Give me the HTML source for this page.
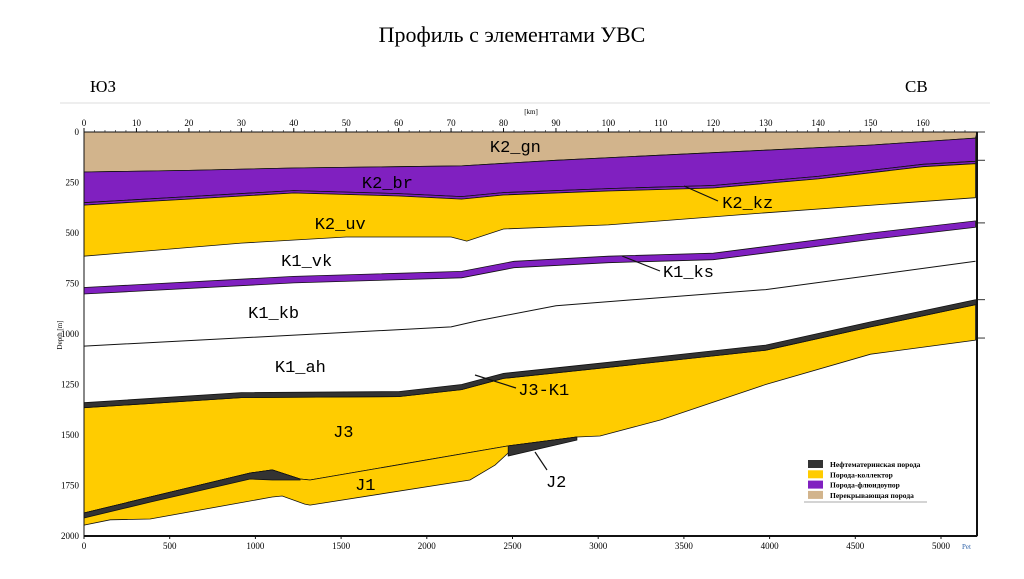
<!DOCTYPE html>
<html><head><meta charset="utf-8"><style>
body{margin:0;background:#fff;width:1024px;height:574px;overflow:hidden;font-family:"Liberation Serif",serif}
</style></head><body>
<svg id="c" width="1024" height="574" xmlns="http://www.w3.org/2000/svg">
<text x="512" y="42" text-anchor="middle" font-size="22" font-family="Liberation Serif, serif">Профиль с элементами УВС</text>
<text x="90" y="92" font-size="17">ЮЗ</text>
<text x="905" y="92" font-size="17">СВ</text>
<line x1="60" y1="103" x2="990" y2="103" stroke="#eee" stroke-width="2"/>
<g id="layers"></g>
<g id="axes"></g>
</svg>
<script>
// boundary lines: km positions and depths (m)
const gnKm=[0,20,40,60,72,90,110,130,150,170];
const gnBase=[198,190,178,172,168,140,115,90,65,30];
const brKm=[0,20,40,60,72,80,100,120,140,160,170];
const brBase=[350,320,290,305,320,300,280,265,220,160,145];
const uvKm=[0,30,50,70,73,80,100,130,170];
const uvBase=[615,550,520,520,540,480,460,400,325];
const vkKm=[0,40,72,82,100,120,150,170];
const vkTop=[770,715,690,640,615,600,500,440];
const kbKm=[0,70,75,90,130,170];
const kbBase=[1060,965,935,860,780,640];
const ahKm=[0,30,60,72,80,100,130,150,170];
const ahBase=[1340,1290,1285,1250,1195,1140,1055,940,830];
const j3Km=[0,12.6,31.7,35.9,41.2,43.1,80.9,94,98.4,110,130,150,170];
const j3Base=[1886,1807,1688,1673,1718,1723,1554,1510,1505,1425,1250,1100,1030];
const j1Km=[0,5,12.6,35.9,37.8,42.1,43.1,73.6,78.4,80.9,87.9,94];
const j1Base=[1946,1920,1916,1807,1802,1842,1847,1723,1649,1589,1545,1510];
const topTicks=[0,10,20,30,40,50,60,70,80,90,100,110,120,130,140,150,160];
const depthTicks=[0,250,500,750,1000,1250,1500,1750,2000];
const botTicks=[0,500,1000,1500,2000,2500,3000,3500,4000,4500,5000];
const legendLabels=["Нефтематеринская порода","Порода-коллектор","Порода-флюидоупор","Перекрывающая порода"];
const legendColors=["#333333","#ffcc00","#8020c0","#d2b48c"];
const layerNames=["K2_gn","K2_br","K2_uv","K1_vk","K1_kb","K1_ah","J3","J1","J2","J3-K1","K2_kz","K1_ks"];
const layerLabelKm=[77.4,53,44,37.6,31.3,36.4,47.5,51.7,88.1,82.8,121.7,110.4];
const layerLabelDepth=[99,277,480,663,920,1188,1510,1772,1757,1302,376,718];

const X0=84,KM=5.244,Y0=132,DM=0.202,X1=977;
const sx=k=>Math.min(X1,X0+k*KM), sy=d=>Y0+d*DM;
const NS="http://www.w3.org/2000/svg";
const L=document.getElementById('layers'),A=document.getElementById('axes');
function mk(tag,at,par){const e=document.createElementNS(NS,tag);for(const k in at)e.setAttribute(k,at[k]);par.appendChild(e);return e;}
function line(km,d,off){return km.map((k,i)=>[sx(k),sy(d[i]+(off||0))]);}
function ptsStr(p){return p.map(q=>q[0].toFixed(1)+','+q[1].toFixed(1)).join(' ');}
function band(top,bot,fill,name){
 const p=mk('polygon',{points:ptsStr(top.concat(bot.slice().reverse())),fill:fill,stroke:'#111','stroke-width':0.8},L);
 
 
}
const topLine=[[X0,Y0],[X1,Y0]];
band(topLine,line(gnKm,gnBase),'#d2b48c','k2-gn-layer');
band(line(gnKm,gnBase),line(brKm,brBase),'#8020c0','k2-br-layer');
band(line(brKm,brBase),line(brKm,brBase,12),'#8020c0','k2-kz-layer');
band(line(brKm,brBase,12),line(uvKm,uvBase),'#ffcc00','k2-uv-layer');
band(line(vkKm,vkTop),line(vkKm,vkTop,32),'#8020c0','k1-vk-layer');
const kb=mk('polyline',{points:ptsStr(line(kbKm,kbBase)),fill:'none',stroke:'#111','stroke-width':1},L);


band(line(ahKm,ahBase,25),line(j3Km,j3Base),'#ffcc00','j3-layer');
band(line(ahKm,ahBase),line(ahKm,ahBase,25),'#333333','j3-k1-layer');
// J1: top is J3 base up to km 94
const j3Left=line(j3Km,j3Base).filter((p,i)=>j3Km[i]<=94);
band(j3Left,line(j1Km,j1Base),'#ffcc00','j1-layer');
// source rock along J3 base (left)
const srKm=[0,12.6,31.7,35.9,41.2],srT=[1886,1807,1688,1673,1718],srB=[1911,1832,1718,1723,1723];
band(line(srKm,srT),line(srKm,srB),'#333333','source-rock-left');
// J2 wedge
const j2Km=[80.9,94],j2T=[1554,1510],j2B=[1604,1525];
band(line(j2Km,j2T),line(j2Km,j2B),'#333333','j2-layer');
// right tick marks
[0,140,450,830,1020].forEach(d=>{const t=mk('line',{x1:X1,y1:sy(d),x2:X1+8,y2:sy(d),stroke:'#333','stroke-width':1},A);

});
// labels
layerNames.forEach((s,i)=>{const t=mk('text',{x:sx(layerLabelKm[i]),y:sy(layerLabelDepth[i]),'font-size':17,'font-family':'Liberation Mono, monospace'},L);t.textContent=s;

});
const leaders=[[718,201,684,186],[660,271,622,256],[516,388,475,375],[547,470,535,452]];
leaders.forEach(a=>{const t=mk('line',{x1:a[0],y1:a[1],x2:a[2],y2:a[3],stroke:'#111','stroke-width':1.2},L);

});
// frame
mk('rect',{x:X0,y:Y0,width:X1-X0,height:sy(2000)-Y0,fill:'none',stroke:'#111','stroke-width':1},A);
mk('line',{x1:X0,y1:sy(2000),x2:X1,y2:sy(2000),stroke:'#111','stroke-width':2},A);
mk('line',{x1:X1,y1:Y0,x2:X1,y2:sy(2000),stroke:'#111','stroke-width':2},A);
topTicks.forEach(k=>{const t=mk('text',{x:sx(k),y:126,'font-size':9,'text-anchor':'middle'},A);t.textContent=k;


mk('line',{x1:sx(k),y1:Y0,x2:sx(k),y2:Y0-4,stroke:'#111'},A);});
for(let k=0;k<170;k+=2)mk('line',{x1:sx(k),y1:Y0,x2:sx(k),y2:Y0-2,stroke:'#111','stroke-width':0.6},A);
depthTicks.forEach(d=>{const t=mk('text',{x:79,y:sy(d)+3,'font-size':9,'text-anchor':'end'},A);t.textContent=d;

});
botTicks.forEach(v=>{const x=X0+v*(941-84)/5000;const t=mk('text',{x:x,y:549,'font-size':9,'text-anchor':'middle'},A);t.textContent=v;


mk('line',{x1:x,y1:sy(2000),x2:x,y2:sy(2000)+3,stroke:'#111'},A);});
const km=mk('text',{x:531,y:114,'font-size':7,'text-anchor':'middle'},A);km.textContent='[km]';


const dp=mk('text',{x:62,y:335,'font-size':7,'text-anchor':'middle',transform:'rotate(-90 62 335)'},A);dp.textContent='Depth [m]';


// legend
const lg=mk('g',{},A);


mk('rect',{x:804,y:454,width:134,height:48,fill:'#fff'},lg);
mk('line',{x1:804,y1:502,x2:927,y2:502,stroke:'#aaa'},lg);
legendLabels.forEach((s,i)=>{const y=461+i*10.3;
const r=mk('rect',{x:808,y:y-1,width:15,height:8,fill:legendColors[i]},lg);


const t=mk('text',{x:830,y:y+6,'font-size':7.5,'font-weight':'bold'},lg);t.textContent=s;

});
const pt=mk('text',{x:962,y:549,'font-size':7,fill:'#3366aa'},A);pt.textContent='Pet';


</script>
</body></html>
